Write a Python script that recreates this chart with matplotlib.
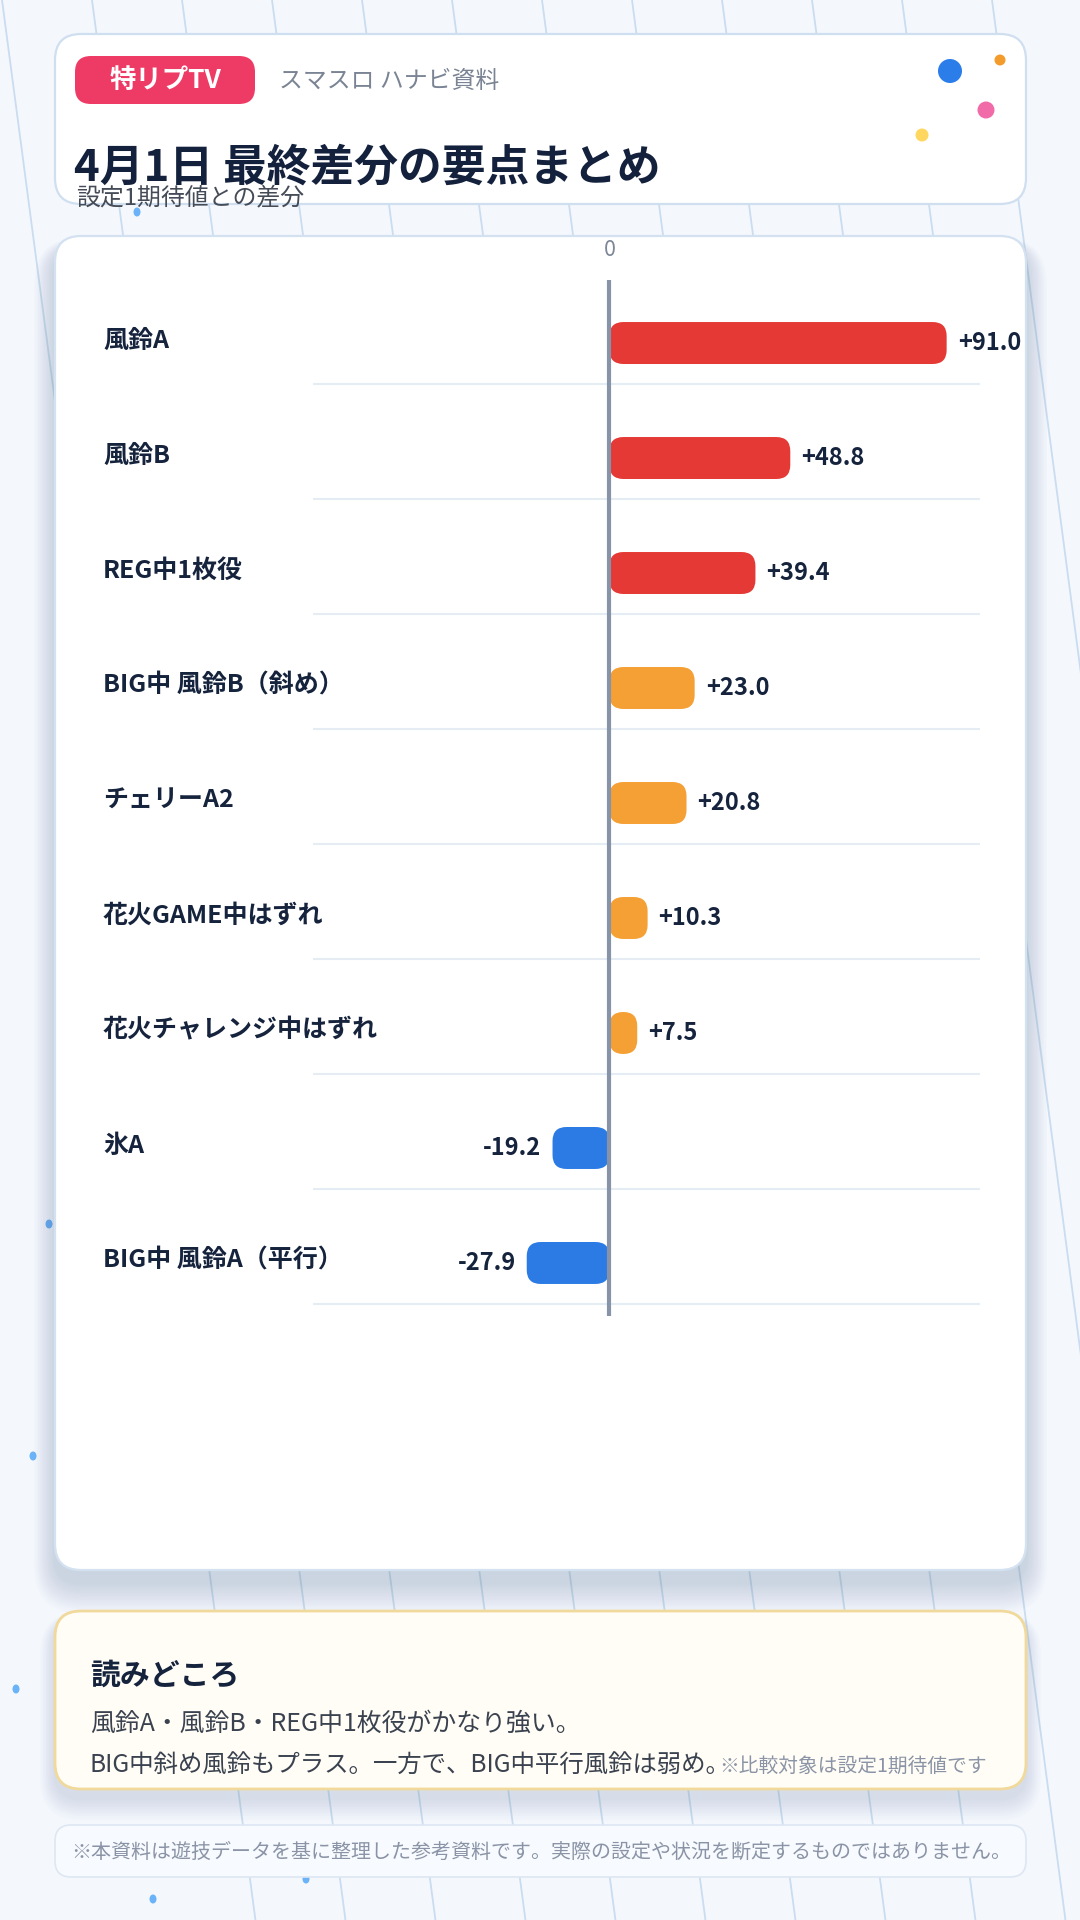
import numpy as np
import matplotlib
matplotlib.use("Agg")
import matplotlib.pyplot as plt
from matplotlib.patches import FancyBboxPatch, Circle, Ellipse
import matplotlib.transforms as mtransforms

plt.rcParams['font.family'] = ['Noto Sans CJK JP', 'DejaVu Sans']

# ---------------- data ----------------
categories = ["風鈴A", "風鈴B", "REG中1枚役", "BIG中 風鈴B（斜め）", "チェリーA2",
              "花火GAME中はずれ", "花火チャレンジ中はずれ", "氷A", "BIG中 風鈴A（平行）"]
values = [91.0, 48.8, 39.4, 23.0, 20.8, 10.3, 7.5, -19.2, -27.9]
bar_colors = ["#E53935", "#E53935", "#E53935", "#F4A035", "#F4A035",
              "#F4A035", "#F4A035", "#2C7BE5", "#2C7BE5"]
zero_ticks = [0]
zero_labels = ["0"]

brand = "特リプTV"
source = "スマスロ ハナビ資料"
title = "4月1日 最終差分の要点まとめ"
subtitle = "設定1期待値との差分"
notes_title = "読みどころ"
notes_lines = ["風鈴A・風鈴B・REG中1枚役がかなり強い。",
               "BIG中斜め風鈴もプラス。一方で、BIG中平行風鈴は弱め。"]
note_small = "※比較対象は設定1期待値です"
footer = "※本資料は遊技データを基に整理した参考資料です。実際の設定や状況を断定するものではありません。"

# ---------------- figure ----------------
W, H = 1080, 1920
fig = plt.figure(figsize=(W / 100, H / 100), dpi=100)
fig.patch.set_facecolor("#F4F8FD")

bg = fig.add_axes([0, 0, 1, 1])
bg.set_xlim(0, W)
bg.set_ylim(H, 0)
bg.axis("off")
bg.set_zorder(0)

# background slanted lines (pattern starts at the leftmost line)
for k in range(0, 13):
    x0 = 2 + 90 * k
    bg.plot([x0, x0 + 0.132 * H], [0, H], color="#CADCEF", lw=1.3, zorder=0.5,
            solid_capstyle="butt")

# scattered dots
for (dx, dy) in [(137, 212), (49, 1224), (33, 1456), (16, 1689), (306, 1879), (153, 1899)]:
    bg.add_patch(Ellipse((dx, dy), 7, 9, color="#6BB3F8", zorder=0.8, lw=0))


def shadow(x, y, w, h, r, n=14, dy=12, alpha=0.011):
    for s in range(n, 0, -1):
        e = s * 3.0
        bg.add_patch(FancyBboxPatch((x - e * 0.5, y - e * 0.25 + dy), w + e, h + e,
                                    boxstyle=f"round,pad=0,rounding_size={r + e * 0.5}",
                                    fc="#1E3A5F", ec="none", alpha=alpha, zorder=0.9))


def card(x, y, w, h, r, fc, ec, lw, z=1):
    bg.add_patch(FancyBboxPatch((x, y), w, h, boxstyle=f"round,pad=0,rounding_size={r}",
                                fc=fc, ec=ec, lw=lw, zorder=z))


# header card
card(55, 34, 971, 170, 26, "white", "#CFDFF0", 1.6)
# chart card
shadow(55, 236, 971, 1334, 26)
card(55, 236, 971, 1334, 26, "white", "#D3E1F0", 1.6)
# notes card
shadow(55, 1611, 971, 178, 26, n=10, dy=9)
card(55, 1611, 971, 178, 26, "#FFFDF5", "#F0D99B", 2.0)
# footer card
card(55, 1825, 971, 52, 16, "#F7FAFE", "#DDE7F3", 1.2)

# header content
bg.add_patch(FancyBboxPatch((75, 56), 180, 48, boxstyle="round,pad=0,rounding_size=16",
                            fc="#EE3B65", ec="none", zorder=2))
bg.text(165, 80, brand, ha="center", va="center", fontsize=19, fontweight="bold",
        color="white", zorder=3)
bg.text(279, 82, source, ha="left", va="center", fontsize=17.2, color="#7A8494", zorder=3)
bg.text(74, 168, title, ha="left", va="center", fontsize=31.5, fontweight="bold",
        color="#14213D", zorder=3)
bg.text(76, 198, subtitle, ha="left", va="center", fontsize=17.2, color="#454B57", zorder=3)

for (cx, cy, r, c) in [(950, 71, 12, "#2B7DE9"), (1000, 60, 5.5, "#F39C2B"),
                       (986, 110, 8.5, "#F06BA8"), (922, 135, 6.5, "#FFD75E")]:
    bg.add_patch(Circle((cx, cy), r, color=c, lw=0, zorder=3))

# notes content
bg.text(90, 1675, notes_title, ha="left", va="center", fontsize=21.5, fontweight="bold",
        color="#15233D", zorder=3)
bg.text(90, 1731, notes_lines[0], ha="left", va="baseline", fontsize=17.9,
        color="#3A4250", zorder=3)
l2 = bg.text(90, 1772, notes_lines[1], ha="left", va="baseline", fontsize=17.6,
             color="#3A4250", zorder=3)
bg.annotate(note_small, xy=(1, 1772), xycoords=(l2, "data"), xytext=(-12, 0),
            textcoords="offset pixels", ha="left", va="baseline",
            fontsize=14.2, color="#8A94A6", zorder=3)

# footer content
bg.text(71, 1852, footer, ha="left", va="center", fontsize=14.4, color="#8A94A6", zorder=3)

# ---------------- chart axes ----------------
L, R, T, B = 313, 980, 280, 1316
ax = fig.add_axes([L / W, 1 - B / H, (R - L) / W, (B - T) / H])
ax.set_zorder(2)
ax.set_facecolor("none")

NEG = 0.8


def fwd(x):
    x = np.asarray(x, dtype=float)
    return np.where(x < 0, x * NEG, x)


def inv(x):
    x = np.asarray(x, dtype=float)
    return np.where(x < 0, x / NEG, x)


ax.set_xscale("function", functions=(fwd, inv))
ax.set_xlim(-100, 100)
n = len(categories)
ax.set_ylim(8.461, -0.548)
for s in ax.spines.values():
    s.set_visible(False)
ax.set_yticks([])
ax.xaxis.tick_top()
ax.set_xticks(zero_ticks)
ax.set_xticklabels(zero_labels)
ax.tick_params(axis="x", length=0, pad=14, labelsize=15.5, labelcolor="#7D8797")

ypos = np.arange(n)
for i in range(n):
    ax.axhline(i + 0.36, color="#E6ECF3", lw=1.5, zorder=1)
ax.axvline(0, color="#8793A6", lw=3, zorder=4)

bars = ax.barh(ypos, values, height=0.365, color=bar_colors, zorder=3)

# pixel per unit for rounding
p0 = ax.transData.transform((0, 0))
ppu_pos = abs(ax.transData.transform((10, 0))[0] - p0[0]) / 10
ppu_neg = abs(ax.transData.transform((-10, 0))[0] - p0[0]) / 10
ppu_y = abs(ax.transData.transform((0, 1))[1] - p0[1])
r_px = 14
for b in bars:
    x0, y0, w, h = b.get_x(), b.get_y(), b.get_width(), b.get_height()
    if w < 0:
        x0, w = x0 + w, -w
    ppu = ppu_pos if x0 >= 0 else ppu_neg
    r = r_px / ppu
    r = min(r, w / 2 * 0.98)
    aspect = (r_px / ppu_y) / r if r > 0 else 1
    b.set_visible(False)
    ax.add_patch(FancyBboxPatch((x0, y0), w, h,
                                boxstyle=f"round,pad=0,rounding_size={r}",
                                mutation_aspect=aspect, fc=b.get_facecolor(),
                                ec="none", zorder=3))

trans = mtransforms.blended_transform_factory(bg.transData, ax.transData)
for i, (cat, v) in enumerate(zip(categories, values)):
    ax.text(103, i - 0.02, cat, transform=trans, ha="left", va="center", fontsize=18,
            fontweight="bold", color="#15233D")
    ax.annotate(f"{v:+.1f}", xy=(v, i), xytext=(11 if v > 0 else -11, 0),
                textcoords="offset pixels", ha="left" if v > 0 else "right",
                va="center", fontsize=17, fontweight="bold", color="#15233D", zorder=5)

fig.savefig("out.png", dpi=100)
